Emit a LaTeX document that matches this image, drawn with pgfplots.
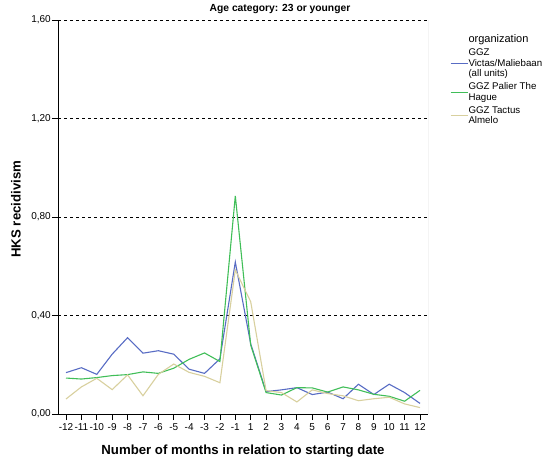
\documentclass[border=0pt]{standalone}
\usepackage{fontspec}
\setmainfont{Liberation Sans}
\usepackage{pgfplots}
\pgfplotsset{compat=1.18}
\definecolor{cblue}{RGB}{88,108,196}
\definecolor{cgreen}{RGB}{64,190,88}
\definecolor{ctan}{RGB}{216,208,158}

\begin{document}
\begin{tikzpicture}[x=1pt,y=1pt]
\useasboundingbox (-58,-45) rectangle (487,414);
\begin{axis}[
  scale only axis, width=370pt, height=394pt,
  at={(0,0)}, anchor=south west,
  xmin=-0.52, xmax=23.52, ymin=0, ymax=1.6,
  axis x line*=bottom, axis y line*=left,
  axis line style={-, black, line width=0.8pt},
  xtick={0,...,23},
  xticklabels={-12,-11,-10,-9,-8,-7,-6,-5,-4,-3,-2,-1,1,2,3,4,5,6,7,8,9,10,11,12},
  ytick={0,0.4,0.8,1.2,1.6},
  yticklabels={{0,00},{0,40},{0,80},{1,20},{1,60}},
  tick align=outside, major tick length=6pt,
  tick style={black, line width=0.8pt},
  ticklabel style={font=\fontsize{10}{11}\selectfont},
  xticklabel style={inner sep=1pt, yshift=-2pt},
  yticklabel style={inner sep=1pt},
  ymajorgrids, grid style={black, line width=0.7pt, dash pattern=on 3pt off 3pt},
  title={Age category: 23 or younger},
  title style={at={(0.6,1)}, anchor=base, yshift=3pt, font=\bfseries\fontsize{10.3}{12}\selectfont},
  xlabel={Number of months in relation to starting date},
  ylabel={HKS recidivism},
  label style={font=\bfseries\fontsize{13.2}{15}\selectfont},
  xlabel style={at={(0.5,0)}, anchor=base, yshift=-40pt},
  ylabel style={at={(0,0.52)}, anchor=center, yshift=42pt},
  legend style={at={(1,1)}, anchor=north west, xshift=19pt, yshift=-12pt,
    draw=none, fill=none, font=\fontsize{9.7}{10.2}\selectfont,
    cells={align=left, anchor=west}, row sep=4.5pt,
    nodes={inner sep=0.3pt}},
  legend image code/.code={\draw[#1, line width=1pt] (0pt,0pt) -- (17pt,0pt);},
  every axis plot/.append style={line width=1.1pt},
]
\addlegendimage{empty legend}
\addlegendentry{\fontsize{11}{12}\selectfont organization\rule[-4.5pt]{0pt}{1pt}}
\addplot[cblue] coordinates {
  (0,0.168) (1,0.188) (2,0.161) (3,0.243) (4,0.310) (5,0.247)
  (6,0.257) (7,0.243) (8,0.182) (9,0.165) (10,0.224) (11,0.617)
  (12,0.285) (13,0.091) (14,0.098) (15,0.107) (16,0.079) (17,0.089)
  (18,0.062) (19,0.121) (20,0.079) (21,0.121) (22,0.087) (23,0.043)};
\addlegendentry{GGZ\\Victas/Maliebaan\\(all units)}
\addplot[cgreen] coordinates {
  (0,0.146) (1,0.142) (2,0.148) (3,0.156) (4,0.160) (5,0.171)
  (6,0.165) (7,0.186) (8,0.222) (9,0.248) (10,0.213) (11,0.886)
  (12,0.280) (13,0.087) (14,0.077) (15,0.107) (16,0.106) (17,0.089)
  (18,0.110) (19,0.098) (20,0.080) (21,0.072) (22,0.052) (23,0.096)};
\addlegendentry{GGZ Palier The\\Hague}
\addplot[ctan] coordinates {
  (0,0.061) (1,0.110) (2,0.145) (3,0.099) (4,0.159) (5,0.074)
  (6,0.161) (7,0.203) (8,0.169) (9,0.153) (10,0.127) (11,0.585)
  (12,0.456) (13,0.095) (14,0.087) (15,0.049) (16,0.098) (17,0.083)
  (18,0.074) (19,0.054) (20,0.062) (21,0.068) (22,0.041) (23,0.026)};
\addlegendentry{GGZ Tactus\\Almelo}
\draw[gray!70, line width=0.8pt] (rel axis cs:1,0) -- (rel axis cs:1,1);
\end{axis}
\end{tikzpicture}
\end{document}
